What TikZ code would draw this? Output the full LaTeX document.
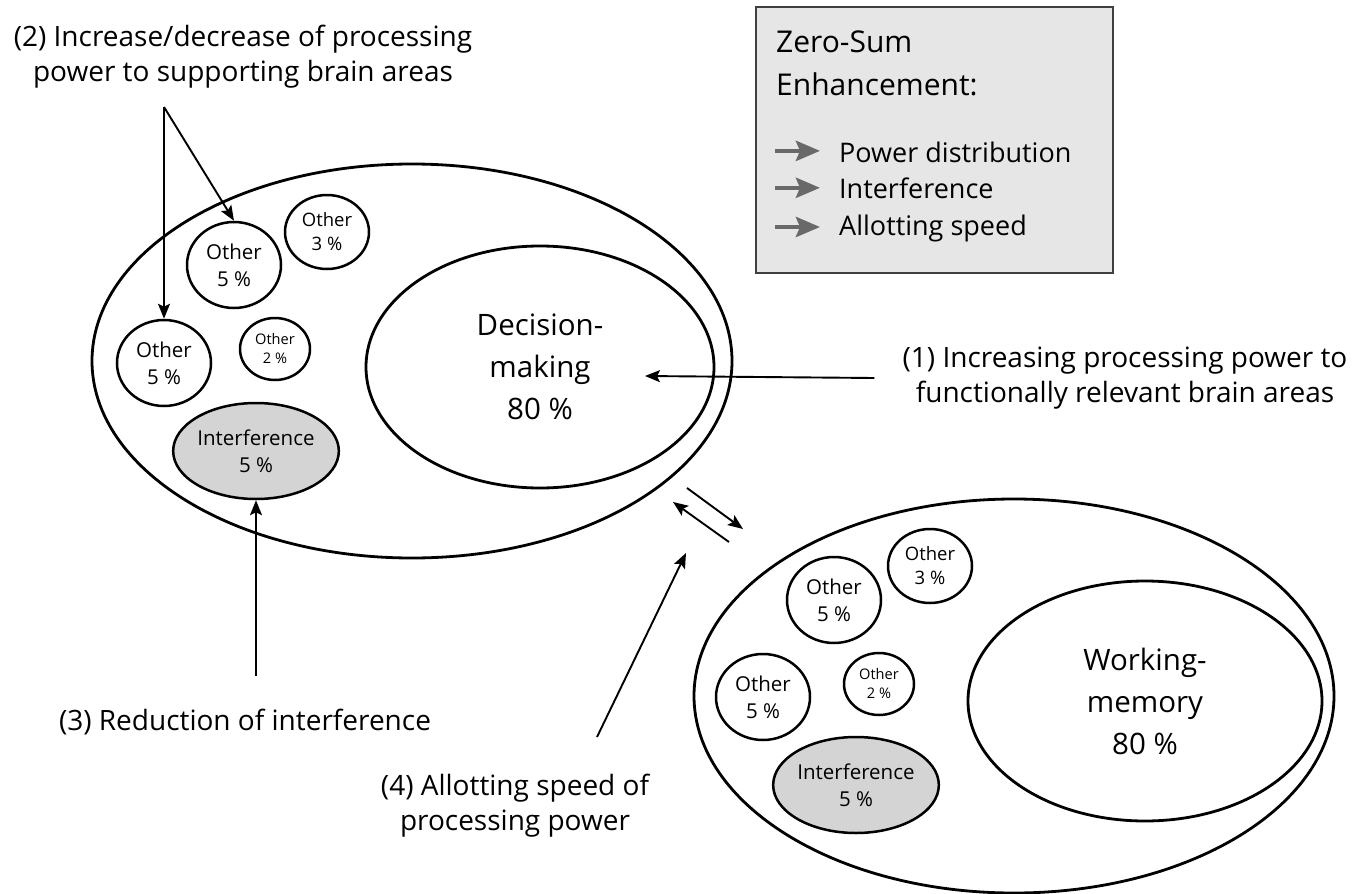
\documentclass[tikz,border=0pt]{standalone}
\usepackage{fontspec}
\setmainfont{Open Sans}
\usepackage{tikz}
\usetikzlibrary{positioning,arrows.meta,shapes.geometric,calc}
\definecolor{intclr}{RGB}{212,212,212}
\definecolor{legclr}{RGB}{230,230,230}
\definecolor{legarr}{RGB}{105,105,105}
\tikzset{
  area/.style={ellipse,draw,line width=2.8pt,inner sep=0pt,align=center},
  other/.style={area,line width=2.5pt,minimum width=94pt,minimum height=86pt,
                font=\fontsize{20.5}{27}\selectfont},
  smother/.style={other,minimum width=84pt,minimum height=74pt,
                  font=\fontsize{18.5}{24}\selectfont},
  tinyother/.style={other,minimum width=70pt,minimum height=62pt,
                    font=\fontsize{14.6}{19}\selectfont},
  intf/.style={other,fill=intclr,minimum width=144pt,minimum height=96pt},
  arr/.style={-{Stealth[length=15pt,width=12pt,inset=3pt]},line width=1.9pt},
  legarrow/.style={-{Stealth[length=24pt,width=20pt,inset=4pt]},draw=legarr,line width=4.5pt},
}

\begin{document}
\begin{tikzpicture}[x=1pt,y=-1pt,
    note/.style={align=center,font=\fontsize{28}{35}\selectfont,inner sep=0pt},
    bigarea/.style={area,font=\fontsize{29.5}{42}\selectfont},
  ]
\useasboundingbox (0,0) rectangle (1371,894);

% legend
\node[draw=black!75,line width=1.5pt,fill=legclr,minimum width=357pt,
      minimum height=266pt,inner sep=0pt] (legend) at (934.5,140) {};
\node[anchor=base west,align=left,inner sep=0pt,
      font=\fontsize{30}{43}\selectfont] (legtitle) at (776,95) {Zero-Sum\\Enhancement:};
\node[note,font=\fontsize{27}{35}\selectfont,anchor=base west] (legpow) at (839,162) {Power distribution};
\node[note,font=\fontsize{27}{35}\selectfont,anchor=base west] (legint) at (839,198) {Interference};
\node[note,font=\fontsize{27}{35}\selectfont,anchor=base west] (legall) at (839,235) {Allotting speed};
\draw[legarrow] (legpow.west) ++(-64,-1) -- ++(45,0);
\draw[legarrow] (legint.west) ++(-64,0) -- ++(45,0);
\draw[legarrow] (legall.west) ++(-64,-1) -- ++(45,0);

% decision-making areas
\node[bigarea,minimum width=640pt,minimum height=394pt] (dmarea) at (412,361) {};
\node[bigarea,minimum width=348pt,minimum height=242pt] (dm) at (540,367) {Decision-\\making\\80~\%};
\node[other]     (dmo5a) at (234,265) {Other\\5~\%};
\node[smother]   (dmo3)  at (327,232) {Other\\3~\%};
\node[other]     (dmo5b) at (164,363) {Other\\5~\%};
\node[tinyother] (dmo2)  at (275,349) {Other\\2~\%};
\node[intf]      (dmint) at (256,451) {Interference\\5~\%};

% working-memory areas
\node[bigarea,minimum width=640pt,minimum height=394pt] (wmarea) at (1014,696) {};
\node[bigarea,minimum width=354pt,minimum height=240pt] (wm) at (1145,701) {Working-\\memory\\80~\%};
\node[other]     (wmo5a) at (834,600) {Other\\5~\%};
\node[smother]   (wmo3)  at (930,566) {Other\\3~\%};
\node[other]     (wmo5b) at (763,697) {Other\\5~\%};
\node[tinyother] (wmo2)  at (879,684) {Other\\2~\%};
\node[intf]      (wmint) at (856,785) {Interference\\5~\%};

% numbered notes
\node[note] (n1) at (1125,378) {(1) Increasing processing power to\\functionally relevant brain areas};
\node[note] (n2) at (243,57)   {(2) Increase/decrease of processing\\power to supporting brain areas};
\node[note,anchor=base] (n3) at (245,730) {(3) Reduction of interference};
\node[note] (n4) at (515,806)  {(4) Allotting speed of\\processing power};

\coordinate (dmtip) at (645,376);
\coordinate (fork)  at (164,107);
\coordinate (n3top) at (256,676);
\coordinate (n4top) at (597,737);
\coordinate (n4tip) at (686,553);
\coordinate (upa)   at (729,542);
\coordinate (upb)   at (673,502);
\coordinate (dna)   at (687,488);
\coordinate (dnb)   at (743,529);

\draw[arr] ([xshift=-28pt]n1.west) -- (dmtip);
\draw[arr] (fork) -- (dmo5b.north);
\draw[arr] (fork) -- (dmo5a.north);
\draw[arr] (n3top) -- (dmint.south);
\draw[arr] (n4top) -- (n4tip);
\draw[arr] (upa) -- (upb);
\draw[arr] (dna) -- (dnb);
\end{tikzpicture}
\end{document}
